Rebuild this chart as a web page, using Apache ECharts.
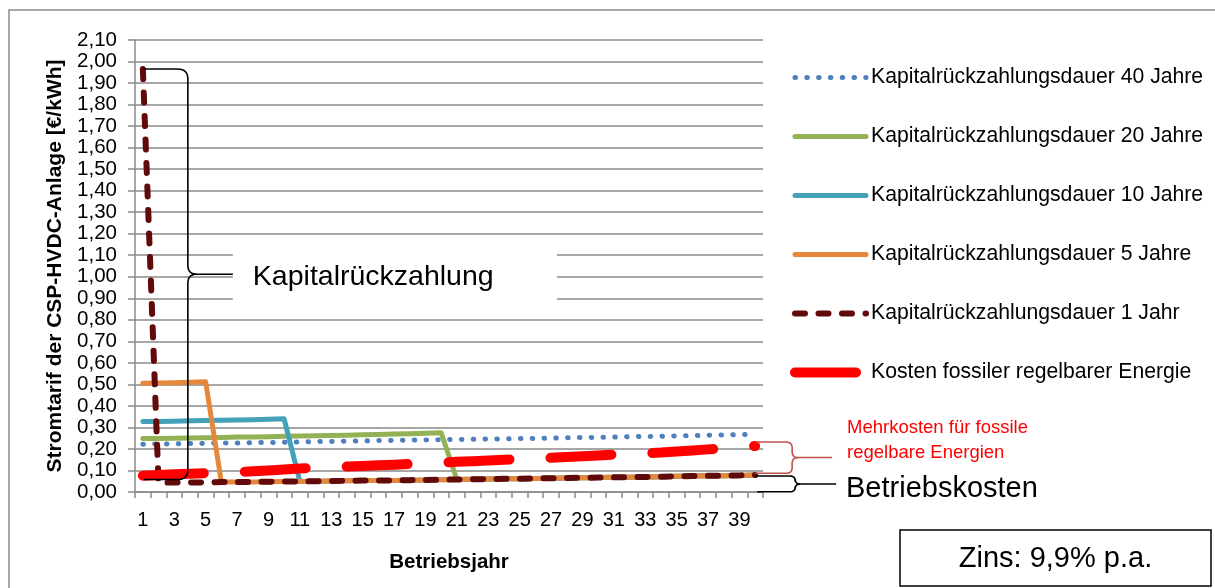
<!DOCTYPE html>
<html>
<head>
<meta charset="utf-8">
<script src="https://cdn.jsdelivr.net/npm/echarts@6/dist/echarts.min.js"></script>
<style>
  html, body { margin: 0; padding: 0; background: #fff; }
  #chart { width: 1215px; height: 588px; }
</style>
</head>
<body>
<div id="chart"></div>
<script>
// Betriebsjahre
const years = ['1', '2', '3', '4', '5', '6', '7', '8', '9', '10',
  '11', '12', '13', '14', '15', '16', '17', '18', '19', '20',
  '21', '22', '23', '24', '25', '26', '27', '28', '29', '30',
  '31', '32', '33', '34', '35', '36', '37', '38', '39', '40'];

// Stromtarif [€/kWh] je Kapitalrückzahlungsdauer
const dauer40 = [0.222, 0.223, 0.224, 0.225, 0.226, 0.227, 0.228, 0.229, 0.230, 0.231,
  0.232, 0.234, 0.235, 0.236, 0.237, 0.239, 0.240, 0.241, 0.242, 0.243,
  0.244, 0.245, 0.246, 0.247, 0.248, 0.249, 0.250, 0.252, 0.253, 0.254,
  0.255, 0.257, 0.258, 0.259, 0.261, 0.262, 0.264, 0.265, 0.267, 0.268];
const dauer20 = [0.248, 0.249, 0.250, 0.251, 0.252, 0.253, 0.255, 0.256, 0.257, 0.259,
  0.260, 0.261, 0.263, 0.264, 0.266, 0.267, 0.269, 0.271, 0.273, 0.275,
  0.058, 0.059, 0.060, 0.061, 0.062, 0.063, 0.064, 0.065, 0.066, 0.067,
  0.068, 0.069, 0.070, 0.071, 0.073, 0.074, 0.075, 0.076, 0.077, 0.079];
const dauer10 = [0.327, 0.328, 0.329, 0.331, 0.332, 0.333, 0.335, 0.336, 0.338, 0.340,
  0.049, 0.050, 0.051, 0.052, 0.053, 0.053, 0.054, 0.055, 0.056, 0.057,
  0.058, 0.059, 0.060, 0.061, 0.062, 0.063, 0.064, 0.065, 0.066, 0.067,
  0.068, 0.069, 0.070, 0.071, 0.073, 0.074, 0.075, 0.076, 0.077, 0.079];
const dauer5 = [0.505, 0.507, 0.508, 0.510, 0.512, 0.046, 0.046, 0.047, 0.048, 0.049,
  0.049, 0.050, 0.051, 0.052, 0.053, 0.053, 0.054, 0.055, 0.056, 0.057,
  0.058, 0.059, 0.060, 0.061, 0.062, 0.063, 0.064, 0.065, 0.066, 0.067,
  0.068, 0.069, 0.070, 0.071, 0.073, 0.074, 0.075, 0.076, 0.077, 0.079];
const dauer1 = [1.965, 0.043, 0.044, 0.044, 0.045, 0.046, 0.046, 0.047, 0.048, 0.049,
  0.049, 0.050, 0.051, 0.052, 0.053, 0.053, 0.054, 0.055, 0.056, 0.057,
  0.058, 0.059, 0.060, 0.061, 0.062, 0.063, 0.064, 0.065, 0.066, 0.067,
  0.068, 0.069, 0.070, 0.071, 0.073, 0.074, 0.075, 0.076, 0.077, 0.079];
const fossil = [0.076, 0.079, 0.082, 0.085, 0.088, 0.090, 0.093, 0.096, 0.100, 0.104,
  0.109, 0.113, 0.115, 0.118, 0.121, 0.124, 0.127, 0.130, 0.133, 0.137,
  0.140, 0.143, 0.146, 0.150, 0.153, 0.156, 0.159, 0.163, 0.166, 0.170,
  0.174, 0.177, 0.180, 0.183, 0.188, 0.193, 0.198, 0.203, 0.208, 0.214];

const seriesNames = [
  'Kapitalrückzahlungsdauer 40 Jahre',
  'Kapitalrückzahlungsdauer 20 Jahre',
  'Kapitalrückzahlungsdauer 10 Jahre',
  'Kapitalrückzahlungsdauer 5 Jahre',
  'Kapitalrückzahlungsdauer 1 Jahr',
  'Kosten fossiler regelbarer Energie'
];

const yMin = 0;
const yMax = 2.1;
const yStep = 0.1;

const FONT = '"Liberation Sans", Arial, sans-serif';
const GRID_COLOR = '#8a8a8a';

function lineSeries(name, data, color, width, type) {
  return {
    name: name,
    type: 'line',
    data: data,
    symbol: 'none',
    animation: false,
    emphasis: { disabled: true },
    itemStyle: { color: color },
    lineStyle: { color: color, width: width, type: type, cap: 'round', join: 'round' }
  };
}

const chart = echarts.init(document.getElementById('chart'), null, { renderer: 'canvas' });

chart.setOption({
  backgroundColor: '#fff',
  textStyle: { fontFamily: FONT },
  grid: { left: 135, right: 452, top: 40, bottom: 96, containLabel: false, outerBoundsMode: 'none' },
  legend: {
    orient: 'vertical',
    left: 785,
    top: 62,
    itemWidth: 71,
    itemHeight: 12,
    itemGap: 38,
    selectedMode: false,
    textStyle: { fontFamily: FONT, fontSize: 21.2, lineHeight: 21, color: '#000' },
    itemStyle: { opacity: 0 },
    lineStyle: { width: 'inherit' },
    data: seriesNames
  },
  xAxis: {
    type: 'category',
    data: years,
    boundaryGap: true,
    name: 'Betriebsjahr',
    nameLocation: 'middle',
    nameGap: 60,
    nameTextStyle: { fontFamily: FONT, fontSize: 20.5, fontWeight: 'bold', color: '#000' },
    axisLine: { lineStyle: { color: GRID_COLOR, width: 1.5 } },
    axisTick: { show: true, interval: 0, length: 6, lineStyle: { color: GRID_COLOR, width: 1.5 } },
    axisLabel: { interval: 1, margin: 18, fontFamily: FONT, fontSize: 20, color: '#000' },
    splitLine: { show: false }
  },
  yAxis: {
    type: 'value',
    min: yMin,
    max: yMax,
    interval: yStep,
    name: 'Stromtarif der CSP-HVDC-Anlage [€/kWh]',
    nameLocation: 'middle',
    nameGap: 68,
    nameTextStyle: { fontFamily: FONT, fontSize: 21, fontWeight: 'bold', color: '#000' },
    axisLine: { show: true, lineStyle: { color: GRID_COLOR, width: 1.5 } },
    axisTick: { show: true, length: 7, lineStyle: { color: GRID_COLOR, width: 1.5 } },
    axisLabel: {
      margin: 18,
      fontFamily: FONT,
      fontSize: 20.5,
      color: '#000',
      formatter: v => v.toFixed(2).replace('.', ',')
    },
    splitLine: { show: true, lineStyle: { color: GRID_COLOR, width: 1.5 } }
  },
  series: [
    lineSeries(seriesNames[0], dauer40, '#4f7fbd', 5, [0.5, 11.3]),
    lineSeries(seriesNames[1], dauer20, '#93b255', 5, 'solid'),
    lineSeries(seriesNames[2], dauer10, '#45a0b9', 5, 'solid'),
    lineSeries(seriesNames[3], dauer5, '#e6883c', 5, 'solid'),
    lineSeries(seriesNames[4], dauer1, '#600a0a', 6, [10, 13.5]),
    lineSeries(seriesNames[5], fossil, '#ff0000', 10, [61, 41])
  ]
});

// quadratische Kurve als Punktliste
function quad(p0, c, p1) {
  const pts = [];
  for (let i = 0; i <= 8; i++) {
    const t = i / 8;
    const a = (1 - t) * (1 - t), b = 2 * (1 - t) * t, d = t * t;
    pts.push([a * p0[0] + b * c[0] + d * p1[0], a * p0[1] + b * c[1] + d * p1[1]]);
  }
  return pts;
}

// geschweifte Klammer: obere und untere Hälfte
function brace(x0Top, yTop, x0Bot, yBot, xv, yTip, xTip, r, f) {
  const top = [[x0Top, yTop]]
    .concat(quad([xv - r, yTop], [xv, yTop], [xv, yTop + r]))
    .concat(quad([xv, yTip - f], [xv, yTip], [xv + f, yTip]))
    .concat([[xTip, yTip]]);
  const bot = quad([xv + f, yTip], [xv, yTip], [xv, yTip + f])
    .concat(quad([xv, yBot - r], [xv, yBot], [xv - r, yBot]))
    .concat([[x0Bot, yBot]]);
  return [top, bot];
}

function braceGraphics(parts, color) {
  return parts.map(points => ({
    type: 'polyline', z: 20, silent: true,
    shape: { points: points },
    style: { stroke: color, lineWidth: 1.6, fill: null, lineJoin: 'round' }
  }));
}

function px(cat, val) {
  return chart.convertToPixel({ gridIndex: 0 }, [cat, val]);
}

const bigTop = px(0, 1.965);
const bigBot = px(0, 0.058);
const bigTip = px(0, 1.012);
const bigXv = bigTop[0] + 45;
const bigTipX = bigXv + 45;

const redTop = px(39, 0.232);
const redBot = px(39, 0.087);
const redTip = px(39, 0.160);
const redXv = redTop[0] + 37;

const blkTop = px(39, 0.074);
const blkBot = px(39, 0.001);
const blkTip = px(39, 0.037);
const blkXv = blkTop[0] + 40;

const graphics = [
  // Rahmen
  {
    type: 'polyline', z: 0, silent: true,
    shape: { points: [[9, 600], [9, 10], [1230, 10]] },
    style: { stroke: '#8c8c8c', lineWidth: 1.5, fill: null }
  },
  // Textfeld Kapitalrückzahlung
  {
    type: 'rect', z: 1, silent: true,
    shape: { x: bigTipX, y: bigTip[1] - 34, width: 557 - bigTipX, height: 72 },
    style: { fill: '#fff' }
  },
  {
    type: 'text', z: 20, silent: true,
    x: bigTipX + 20, y: bigTip[1] + 3,
    style: { text: 'Kapitalrückzahlung', font: '28.5px ' + FONT, fill: '#000', verticalAlign: 'middle' }
  },
  {
    type: 'text', z: 20, silent: true,
    x: 847, y: 428,
    style: { text: 'Mehrkosten für fossile', font: '18.5px ' + FONT, fill: '#ff0000', verticalAlign: 'middle' }
  },
  {
    type: 'text', z: 20, silent: true,
    x: 847, y: 453,
    style: { text: 'regelbare Energien', font: '18.5px ' + FONT, fill: '#ff0000', verticalAlign: 'middle' }
  },
  {
    type: 'text', z: 20, silent: true,
    x: 846, y: 489,
    style: { text: 'Betriebskosten', font: '29px ' + FONT, fill: '#000', verticalAlign: 'middle' }
  },
  // Zinsbox
  {
    type: 'rect', z: 20, silent: true,
    shape: { x: 900, y: 530, width: 311, height: 56 },
    style: { fill: '#fff', stroke: '#000', lineWidth: 1.5 }
  },
  {
    type: 'text', z: 21, silent: true,
    x: 1055.5, y: 559,
    style: { text: 'Zins: 9,9% p.a.', font: '29px ' + FONT, fill: '#000', align: 'center', verticalAlign: 'middle' }
  }
]
  .concat(braceGraphics(brace(bigTop[0], bigTop[1], bigBot[0] + 1, bigBot[1], bigXv, bigTip[1], bigTipX, 10, 9), '#000'))
  .concat(braceGraphics(brace(redTop[0], redTop[1], redBot[0], redBot[1], redXv, redTip[1], redXv + 40, 6, 6), '#c0504d'))
  .concat(braceGraphics(brace(blkTop[0], blkTop[1], blkBot[0] + 2, blkBot[1], blkXv, blkTip[1], blkXv + 41, 5, 5), '#000'));

chart.setOption({ graphic: graphics });
</script>
</body>
</html>
